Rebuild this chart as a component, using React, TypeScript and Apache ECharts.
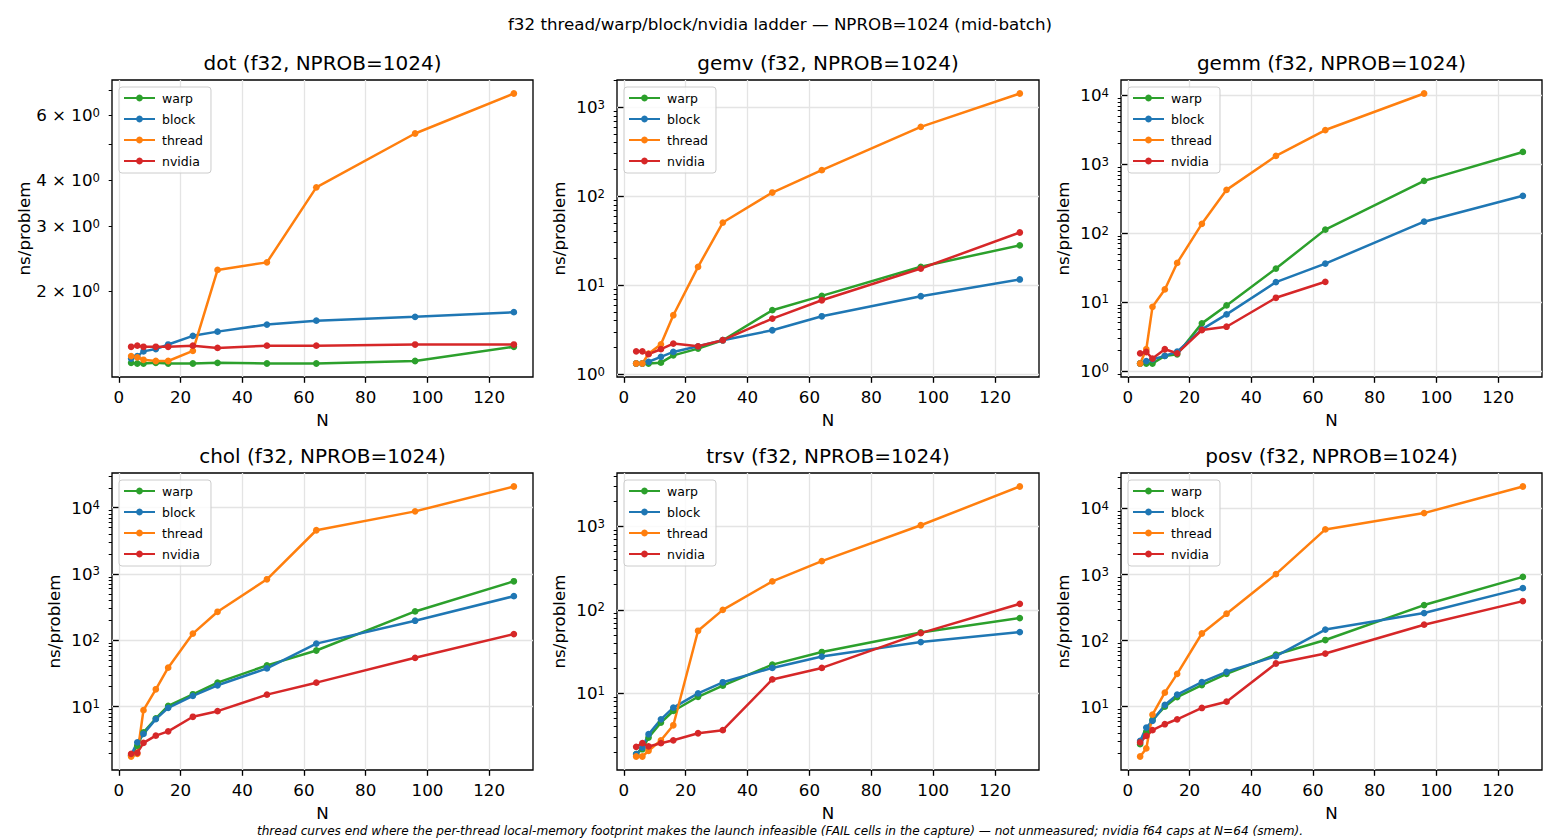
import React, { useEffect, useRef } from "react";
import * as echarts from "echarts";

// ---------------- data ----------------
const N_VALUES = [4, 6, 8, 12, 16, 24, 32, 48, 64, 96, 128];
const X_TICKS = [0, 20, 40, 60, 80, 100, 120];
const SERIES_NAMES = ["warp", "block", "thread", "nvidia"];
const SERIES_COLORS = ["#2ca02c", "#1f77b4", "#ff7f0e", "#d62728"];
const PANEL_NAMES = ["dot", "gemv", "gemm", "chol", "trsv", "posv"];
const DOT_TICK_LABELS = [2, 3, 4, 6];

const dotWarp = [1.275, 1.27, 1.27, 1.275, 1.27, 1.27, 1.275, 1.27, 1.27, 1.29, 1.41];
const dotBlock = [1.31, 1.33, 1.37, 1.39, 1.43, 1.51, 1.55, 1.62, 1.66, 1.7, 1.75];
const dotThread = [1.33, 1.32, 1.3, 1.29, 1.29, 1.375, 2.28, 2.39, 3.82, 5.35, 6.87];
const dotNvidia = [1.41, 1.42, 1.41, 1.41, 1.41, 1.42, 1.4, 1.42, 1.42, 1.43, 1.43];

const gemvWarp = [1.32, 1.32, 1.32, 1.35, 1.63, 1.94, 2.41, 5.24, 7.59, 16.1, 28.1];
const gemvBlock = [1.32, 1.32, 1.38, 1.57, 1.78, 2.06, 2.41, 3.12, 4.48, 7.52, 11.6];
const gemvThread = [1.32, 1.32, 1.7, 2.17, 4.6, 16.1, 50.6, 110, 196, 601, 1425];
const gemvNvidia = [1.81, 1.81, 1.68, 1.91, 2.21, 2.06, 2.41, 4.22, 6.78, 15.4, 39.1];

const gemmWarp = [1.28, 1.28, 1.28, 1.65, 1.74, 4.89, 8.9, 30.5, 112, 571, 1500];
const gemmBlock = [1.28, 1.39, 1.47, 1.65, 1.9, 4.0, 6.6, 19.4, 36, 146, 347];
const gemmThread = [1.28, 2.06, 8.5, 15.2, 36.8, 136, 423, 1313, 3120, 10570, null];
const gemmNvidia = [1.8, 1.88, 1.51, 2.06, 1.8, 3.92, 4.37, 11.5, 19.6, null, null];

const cholWarp = [1.82, 2.57, 4.07, 6.6, 10.2, 15.3, 22.9, 41.7, 70, 272, 776];
const cholBlock = [1.86, 2.88, 3.85, 6.46, 9.55, 14.5, 20.9, 37.6, 89, 197, 462];
const cholThread = [1.76, 1.93, 8.8, 18.2, 38.5, 126, 269, 832, 4570, 8810, 20900];
const cholNvidia = [1.93, 2.0, 2.82, 3.63, 4.22, 7.0, 8.5, 15.1, 22.9, 54.3, 124];

const trsvWarp = [1.88, 2.15, 2.97, 4.48, 6.17, 9.12, 12.4, 22.1, 31.3, 53.7, 79.7];
const trsvBlock = [1.88, 2.25, 3.25, 4.9, 6.75, 10.0, 13.6, 20.2, 27.6, 41.2, 54.2];
const trsvThread = [1.76, 1.76, 2.06, 2.75, 4.16, 56.2, 100, 219, 383, 1028, 2990];
const trsvNvidia = [2.3, 2.54, 2.32, 2.54, 2.75, 3.34, 3.63, 14.7, 20.2, 52.7, 118];

const posvWarp = [2.7, 4.15, 6.3, 10.0, 14.0, 21.2, 31.4, 61.5, 102, 345, 922];
const posvBlock = [3.03, 4.82, 6.1, 10.6, 15.2, 23.5, 33.7, 58, 147, 261, 622];
const posvThread = [1.76, 2.33, 7.57, 16.3, 31.4, 128, 255, 1012, 4820, 8510, 21500];
const posvNvidia = [2.87, 3.61, 4.4, 5.42, 6.44, 9.55, 11.9, 45, 63.7, 174, 396];

const PANEL_DATA: (number | null)[][][] = [
  [dotWarp, dotBlock, dotThread, dotNvidia],
  [gemvWarp, gemvBlock, gemvThread, gemvNvidia],
  [gemmWarp, gemmBlock, gemmThread, gemmNvidia],
  [cholWarp, cholBlock, cholThread, cholNvidia],
  [trsvWarp, trsvBlock, trsvThread, trsvNvidia],
  [posvWarp, posvBlock, posvThread, posvNvidia],
];

const SUPTITLE = "f32 thread/warp/block/nvidia ladder \u2014 NPROB=1024 (mid-batch)";
const FOOTER =
  "thread curves end where the per-thread local-memory footprint makes the launch infeasible (FAIL cells in the capture) \u2014 not unmeasured; nvidia f64 caps at N=64 (smem).";

// ---------------- layout ----------------
const FONT = '"DejaVu Sans", "Liberation Sans", sans-serif';
const GRID_LEFTS = [112, 617, 1121];
const GRID_WIDTHS = [421, 422, 421];
const GRID_TOPS = [80, 473];
const GRID_HEIGHT = 297;
const GRID_LINE = "#e4e4e4";

function linRange(vals: number[]) {
  const lo = Math.min(...vals), hi = Math.max(...vals);
  const pad = (hi - lo) * 0.05;
  return [lo - pad, hi + pad];
}
function logRange(vals: number[]) {
  const lo = Math.log10(Math.min(...vals)), hi = Math.log10(Math.max(...vals));
  const pad = (hi - lo) * 0.05;
  return [Math.pow(10, lo - pad), Math.pow(10, hi + pad)];
}
function majorTicks(min: number, max: number) {
  const out: number[] = [];
  for (let k = Math.floor(Math.log10(min)); k <= Math.ceil(Math.log10(max)); k++) {
    const v = Math.pow(10, k);
    if (v >= min && v <= max) out.push(v);
  }
  return out;
}
function minorTicks(min: number, max: number) {
  const out: number[] = [];
  for (let k = Math.floor(Math.log10(min)); k <= Math.ceil(Math.log10(max)); k++) {
    for (let m = 2; m <= 9; m++) {
      const v = m * Math.pow(10, k);
      if (v >= min && v <= max) out.push(v);
    }
  }
  return out;
}
function supLabel(v: number) {
  const k = Math.floor(Math.log10(v) + 1e-9);
  const m = Math.round(v / Math.pow(10, k));
  return m === 1 ? `{b|10}{s|${k}}` : `{b|${m} \u00d7 10}{s|${k}}`;
}

function buildOption() {
  const grid: any[] = [], xAxis: any[] = [], yAxis: any[] = [], series: any[] = [], legend: any[] = [], graphic: any[] = [];
  const nameStyle = { fontFamily: FONT, fontSize: 16.7, color: "#000" };
  const xr = linRange(N_VALUES);

  graphic.push({
    type: "text", x: 780, y: 24, silent: true,
    style: { text: SUPTITLE, fill: "#000", fontFamily: FONT, fontSize: 16.7, align: "center", verticalAlign: "middle", textAlign: "center", textVerticalAlign: "middle" },
  });
  graphic.push({
    type: "text", x: 780, y: 831, silent: true,
    style: { text: FOOTER, fill: "#000", fontFamily: FONT, fontSize: 12.1, fontStyle: "italic", align: "center", verticalAlign: "middle", textAlign: "center", textVerticalAlign: "middle" },
  });

  PANEL_NAMES.forEach((name, p) => {
    const col = p % 3, row = Math.floor(p / 3);
    const left = GRID_LEFTS[col], top = GRID_TOPS[row], width = GRID_WIDTHS[col];
    grid.push({ left, top, width, height: GRID_HEIGHT, show: true, borderColor: "#000", borderWidth: 1.33, backgroundColor: "transparent" });

    graphic.push({
      type: "text", x: left + width / 2, y: top - 17, silent: true,
      style: { text: `${name} (f32, NPROB=1024)`, fill: "#000", fontFamily: FONT, fontSize: 20, align: "center", verticalAlign: "middle", textAlign: "center", textVerticalAlign: "middle" },
    });

    xAxis.push({
      type: "value", gridIndex: p, min: xr[0], max: xr[1],
      name: "N", nameLocation: "middle", nameGap: 34, nameTextStyle: nameStyle,
      axisLine: { show: false },
      axisTick: { show: true, customValues: X_TICKS, length: 5.8, lineStyle: { color: "#000", width: 1.33 } },
      axisLabel: { customValues: X_TICKS, margin: 11, color: "#000", fontFamily: FONT, fontSize: 16.7 },
      splitLine: { show: true, lineStyle: { color: GRID_LINE, width: 1.33 } },
    });

    const all = PANEL_DATA[p].flat().filter((v) => v != null) as number[];
    const [ymin, ymax] = logRange(all);
    const isDot = name === "dot";
    const majors = isDot ? [] : majorTicks(ymin, ymax);
    const labels = isDot ? DOT_TICK_LABELS : majors;
    const minors = minorTicks(ymin, ymax);

    yAxis.push({
      type: "log", logBase: 10, gridIndex: p, position: "left", min: ymin, max: ymax,
      name: "ns/problem", nameLocation: "middle", nameGap: isDot ? 70 : 49.5, nameTextStyle: nameStyle,
      axisLine: { show: false },
      axisTick: isDot ? { show: false } : { show: true, customValues: majors, length: 5.8, lineStyle: { color: "#000", width: 1.33 } },
      axisLabel: {
        customValues: labels, margin: 12, formatter: supLabel,
        rich: {
          b: { fontFamily: FONT, fontSize: 16.7, color: "#000", lineHeight: 17, verticalAlign: "bottom" },
          s: { fontFamily: FONT, fontSize: 11.7, color: "#000", lineHeight: 12, padding: [0, 0, 8, 0], verticalAlign: "top" },
        },
      },
      splitLine: { show: !isDot, lineStyle: { color: GRID_LINE, width: 1.33 } },
    });
    yAxis.push({
      type: "log", logBase: 10, gridIndex: p, position: "left", min: ymin, max: ymax,
      axisLine: { show: false },
      axisTick: { show: true, customValues: minors, length: 3.3, lineStyle: { color: "#000", width: 1 } },
      axisLabel: { show: false },
      splitLine: { show: false },
    });

    PANEL_DATA[p].forEach((vals, s) => {
      const color = SERIES_COLORS[s];
      series.push({
        type: "line", name: SERIES_NAMES[s], xAxisIndex: p, yAxisIndex: 2 * p,
        data: N_VALUES.map((n, i) => (vals[i] == null ? null : [n, vals[i]])).filter((d) => d !== null),
        symbol: "circle", symbolSize: 6.7, showSymbol: true,
        lineStyle: { width: 2.5, color }, itemStyle: { color },
        emphasis: { disabled: true }, silent: true,
      });
    });

    legend.push({
      orient: "vertical", left: left + 7, top: top + 7,
      data: SERIES_NAMES, selectedMode: false,
      itemWidth: 31, itemHeight: 8.4, itemGap: 8,
      padding: [4.5, 8, 5.5, 4],
      borderColor: "#cccccc", borderWidth: 1, borderRadius: 3,
      backgroundColor: "rgba(255,255,255,0.8)",
      textStyle: { fontFamily: FONT, fontSize: 12.5, color: "#000", lineHeight: 13, padding: [0, 0, 0, 2] },
    });
  });

  return { animation: false, backgroundColor: "#fff", grid, xAxis, yAxis, series, legend, graphic };
}

export default function App() {
  const ref = useRef<HTMLDivElement>(null);
  useEffect(() => {
    if (!ref.current) return;
    const chart = echarts.init(ref.current, undefined, { renderer: "svg" });
    chart.setOption(buildOption() as any);
    return () => chart.dispose();
  }, []);
  return (
    <div
      ref={ref}
      style={{ position: "fixed", left: 0, top: 0, width: 1560, height: 840, background: "#fff" }}
    />
  );
}
